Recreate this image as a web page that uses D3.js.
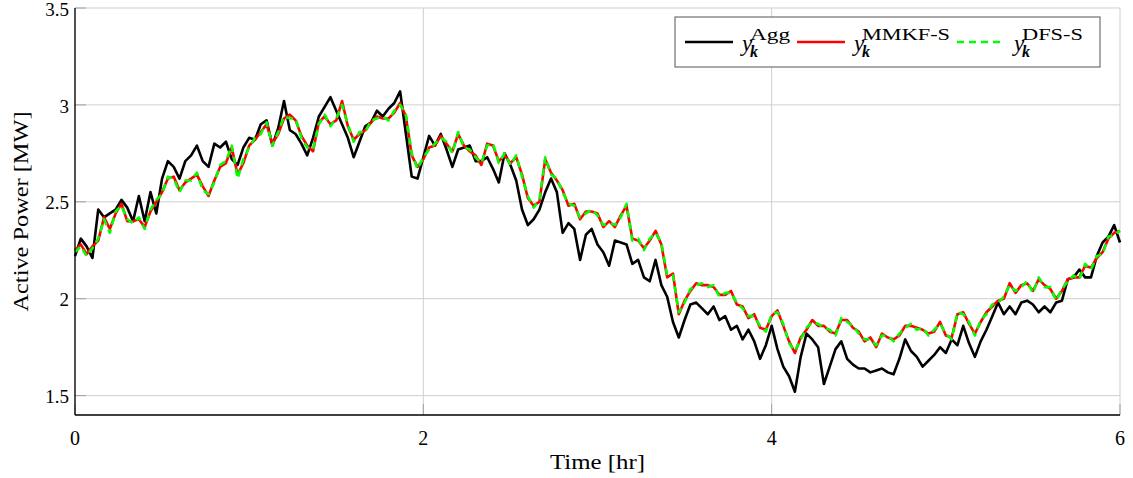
<!DOCTYPE html>
<html>
<head>
<meta charset="utf-8">
<script src="https://cdn.jsdelivr.net/npm/d3@7"></script>
<style>
  html, body { margin: 0; padding: 0; background: #fff; }
  svg text { font-family: "Liberation Serif", "DejaVu Serif", serif; fill: #000; }
</style>
</head>
<body>
<svg id="chart" width="1133" height="478"></svg>
<script>
// samples every 2 minutes, 0 .. 6 hr
const stepHr = 2 / 60;

const aggValues = [
  2.22, 2.31, 2.27, 2.21, 2.46, 2.42, 2.44, 2.46, 2.51, 2.47,
  2.40, 2.53, 2.40, 2.55, 2.44, 2.62, 2.71, 2.68, 2.62, 2.71,
  2.74, 2.79, 2.71, 2.68, 2.80, 2.78, 2.81, 2.72, 2.69, 2.78,
  2.83, 2.82, 2.90, 2.92, 2.79, 2.88, 3.02, 2.87, 2.85, 2.80,
  2.74, 2.83, 2.94, 2.99, 3.04, 2.97, 2.90, 2.83, 2.73, 2.81,
  2.89, 2.91, 2.97, 2.94, 2.98, 3.01, 3.07, 2.85, 2.63, 2.62,
  2.73, 2.84, 2.79, 2.85, 2.77, 2.68, 2.77, 2.78, 2.79, 2.71,
  2.71, 2.73, 2.67, 2.60, 2.75, 2.69, 2.61, 2.46, 2.38, 2.41,
  2.46, 2.55, 2.62, 2.55, 2.34, 2.39, 2.36, 2.20, 2.33, 2.36,
  2.28, 2.24, 2.17, 2.30, 2.29, 2.28, 2.18, 2.20, 2.11, 2.09,
  2.20, 2.07, 2.01, 1.88, 1.80, 1.89, 1.97, 1.98, 1.95, 1.92,
  1.96, 1.89, 1.91, 1.84, 1.86, 1.79, 1.84, 1.78, 1.69, 1.76,
  1.86, 1.74, 1.65, 1.60, 1.52, 1.70, 1.82, 1.79, 1.75, 1.56,
  1.65, 1.74, 1.78, 1.69, 1.66, 1.64, 1.64, 1.62, 1.63, 1.64,
  1.62, 1.61, 1.69, 1.79, 1.73, 1.70, 1.65, 1.68, 1.71, 1.75,
  1.72, 1.79, 1.76, 1.86, 1.77, 1.70, 1.78, 1.84, 1.91, 1.98,
  1.92, 1.96, 1.92, 1.98, 1.99, 1.97, 1.93, 1.96, 1.93, 1.98,
  1.99, 2.10, 2.11, 2.15, 2.11, 2.11, 2.22, 2.29, 2.32, 2.38, 2.29
];

const mmkfValues = [
  2.25, 2.28, 2.23, 2.27, 2.30, 2.42, 2.36, 2.44, 2.49, 2.40,
  2.40, 2.41, 2.37, 2.45, 2.50, 2.55, 2.62, 2.63, 2.56, 2.60,
  2.62, 2.64, 2.58, 2.53, 2.61, 2.68, 2.70, 2.78, 2.64, 2.70,
  2.79, 2.82, 2.86, 2.90, 2.80, 2.85, 2.93, 2.95, 2.92, 2.84,
  2.79, 2.76, 2.91, 2.94, 2.90, 2.92, 3.02, 2.89, 2.82, 2.85,
  2.87, 2.91, 2.94, 2.93, 2.93, 2.96, 3.01, 2.94, 2.74, 2.68,
  2.72, 2.78, 2.79, 2.84, 2.80, 2.76, 2.85, 2.79, 2.76, 2.74,
  2.69, 2.80, 2.79, 2.71, 2.74, 2.70, 2.73, 2.64, 2.52, 2.48,
  2.50, 2.72, 2.65, 2.61, 2.56, 2.48, 2.49, 2.41, 2.45, 2.45,
  2.44, 2.37, 2.40, 2.37, 2.43, 2.48, 2.31, 2.30, 2.26, 2.30,
  2.35, 2.28, 2.11, 2.13, 1.92, 1.99, 2.04, 2.08, 2.07, 2.07,
  2.06, 2.02, 2.02, 2.04, 1.97, 1.96, 1.90, 1.92, 1.85, 1.84,
  1.91, 1.94, 1.86, 1.78, 1.72, 1.80, 1.84, 1.89, 1.86, 1.86,
  1.83, 1.82, 1.89, 1.89, 1.85, 1.83, 1.78, 1.80, 1.75, 1.82,
  1.80, 1.79, 1.81, 1.86, 1.86, 1.85, 1.84, 1.82, 1.83, 1.88,
  1.81, 1.80, 1.92, 1.93, 1.87, 1.82, 1.88, 1.93, 1.96, 1.99,
  2.00, 2.08, 2.03, 2.07, 2.08, 2.04, 2.10, 2.07, 2.05, 2.00,
  2.04, 2.10, 2.11, 2.11, 2.17, 2.16, 2.21, 2.24, 2.31, 2.34, 2.35
];

const dfsValues = [
  2.24, 2.27, 2.22, 2.26, 2.31, 2.41, 2.34, 2.45, 2.48, 2.41,
  2.39, 2.42, 2.36, 2.46, 2.51, 2.54, 2.63, 2.62, 2.55, 2.61,
  2.61, 2.65, 2.56, 2.54, 2.60, 2.69, 2.71, 2.79, 2.62, 2.72,
  2.78, 2.83, 2.85, 2.91, 2.79, 2.86, 2.94, 2.93, 2.93, 2.83,
  2.78, 2.77, 2.90, 2.95, 2.89, 2.93, 3.00, 2.90, 2.81, 2.86,
  2.86, 2.92, 2.93, 2.94, 2.92, 2.97, 3.00, 2.95, 2.75, 2.67,
  2.73, 2.77, 2.80, 2.83, 2.81, 2.75, 2.86, 2.78, 2.77, 2.73,
  2.70, 2.79, 2.80, 2.70, 2.75, 2.69, 2.74, 2.63, 2.53, 2.47,
  2.51, 2.73, 2.64, 2.62, 2.55, 2.49, 2.48, 2.42, 2.44, 2.46,
  2.43, 2.38, 2.39, 2.38, 2.42, 2.49, 2.30, 2.31, 2.25, 2.31,
  2.34, 2.29, 2.12, 2.12, 1.93, 1.98, 2.05, 2.07, 2.08, 2.06,
  2.07, 2.01, 2.03, 2.03, 1.98, 1.95, 1.91, 1.91, 1.86, 1.83,
  1.92, 1.93, 1.87, 1.77, 1.73, 1.79, 1.85, 1.88, 1.87, 1.85,
  1.84, 1.81, 1.90, 1.88, 1.86, 1.82, 1.79, 1.79, 1.76, 1.81,
  1.81, 1.78, 1.82, 1.85, 1.87, 1.84, 1.85, 1.81, 1.84, 1.87,
  1.82, 1.79, 1.93, 1.92, 1.88, 1.81, 1.89, 1.92, 1.97, 1.98,
  2.01, 2.07, 2.04, 2.06, 2.09, 2.03, 2.11, 2.06, 2.06, 1.99,
  2.05, 2.09, 2.12, 2.10, 2.18, 2.15, 2.22, 2.23, 2.32, 2.33, 2.35
];

const xTicks = [0, 2, 4, 6];
const yTicks = [1.5, 2, 2.5, 3, 3.5];

const series = [
  { name: "Agg", values: aggValues, color: "#000000", dash: null, supWidth: 40 },
  { name: "MMKF-S", values: mmkfValues, color: "#ff0000", dash: null, supWidth: 88 },
  { name: "DFS-S", values: dfsValues, color: "#00ff00", dash: "7,5", supWidth: 61 }
];

const margin = { left: 75, right: 13, top: 8, bottom: 63 };
const width = 1133, height = 478;
const innerW = width - margin.left - margin.right;
const innerH = height - margin.top - margin.bottom;

const svg = d3.select("#chart");
const g = svg.append("g").attr("transform", `translate(${margin.left},${margin.top})`);

const x = d3.scaleLinear().domain([0, 6]).range([0, innerW]);
const y = d3.scaleLinear().domain([1.4, 3.5]).range([innerH, 0]);

// grid
g.append("g")
  .selectAll("line")
  .data(yTicks)
  .join("line")
  .attr("x1", 0).attr("x2", innerW)
  .attr("y1", d => y(d)).attr("y2", d => y(d))
  .attr("stroke", "#cfcfcf").attr("stroke-width", 1);

g.append("g")
  .selectAll("line")
  .data(xTicks)
  .join("line")
  .attr("y1", 0).attr("y2", innerH)
  .attr("x1", d => x(d)).attr("x2", d => x(d))
  .attr("stroke", "#cfcfcf").attr("stroke-width", 1);

// small inward ticks (darker)
const tickLen = 11;
g.append("g").selectAll("line")
  .data(yTicks)
  .join("line")
  .attr("x1", 0).attr("x2", tickLen)
  .attr("y1", d => y(d)).attr("y2", d => y(d))
  .attr("stroke", "#a0a0a0");
g.append("g").selectAll("line")
  .data(xTicks)
  .join("line")
  .attr("x1", d => x(d)).attr("x2", d => x(d))
  .attr("y1", innerH).attr("y2", innerH - tickLen)
  .attr("stroke", "#a0a0a0");

// lines
const line = d3.line()
  .x((d, i) => x(i * stepHr))
  .y(d => y(d));

series.forEach(s => {
  g.append("path")
    .datum(s.values)
    .attr("d", line)
    .attr("fill", "none")
    .attr("stroke", s.color)
    .attr("stroke-width", 2.6)
    .attr("stroke-linejoin", "round")
    .attr("stroke-dasharray", s.dash);
});

// axes (left + bottom black)
g.append("line")
  .attr("x1", 0).attr("x2", 0).attr("y1", 0).attr("y2", innerH)
  .attr("stroke", "#000").attr("stroke-width", 1.3);
g.append("line")
  .attr("x1", 0).attr("x2", innerW).attr("y1", innerH).attr("y2", innerH)
  .attr("stroke", "#000").attr("stroke-width", 1.3);

// tick labels
g.append("g").selectAll("text")
  .data(yTicks)
  .join("text")
  .attr("x", -6)
  .attr("y", d => y(d))
  .attr("dy", "0.4em")
  .attr("text-anchor", "end")
  .style("font-size", "19px")
  .text(d => d);

g.append("g").selectAll("text")
  .data(xTicks)
  .join("text")
  .attr("x", d => x(d))
  .attr("y", innerH + 30)
  .attr("text-anchor", "middle")
  .style("font-size", "20px")
  .text(d => d);

// axis titles
svg.append("text")
  .attr("x", margin.left + innerW / 2)
  .attr("y", 469)
  .attr("text-anchor", "middle")
  .attr("textLength", 95)
  .attr("lengthAdjust", "spacingAndGlyphs")
  .style("font-size", "21px")
  .text("Time [hr]");

svg.append("text")
  .attr("transform", `translate(28,${margin.top + innerH / 2}) rotate(-90)`)
  .attr("text-anchor", "middle")
  .attr("textLength", 200)
  .attr("lengthAdjust", "spacingAndGlyphs")
  .style("font-size", "21px")
  .text("Active Power [MW]");

// legend
const legend = svg.append("g");
legend.append("rect")
  .attr("x", 675).attr("y", 17)
  .attr("width", 425).attr("height", 50)
  .attr("fill", "#fff")
  .attr("stroke", "#555").attr("stroke-width", 1);

const legendX = [685, 797, 957];
series.forEach((s, i) => {
  const lx = legendX[i];
  legend.append("line")
    .attr("x1", lx).attr("x2", lx + 48)
    .attr("y1", 42).attr("y2", 42)
    .attr("stroke", s.color)
    .attr("stroke-width", 2.6)
    .attr("stroke-dasharray", s.dash);
  legend.append("text")
    .attr("x", lx + 57).attr("y", 51)
    .style("font-size", "23px")
    .style("font-style", "italic")
    .text("y");
  legend.append("text")
    .attr("x", lx + 65).attr("y", 40)
    .attr("textLength", s.supWidth)
    .attr("lengthAdjust", "spacingAndGlyphs")
    .style("font-size", "17px")
    .text(s.name);
  legend.append("text")
    .attr("x", lx + 65).attr("y", 57)
    .style("font-size", "16px")
    .style("font-style", "italic")
    .style("font-weight", "bold")
    .text("k");
});
</script>
</body>
</html>
